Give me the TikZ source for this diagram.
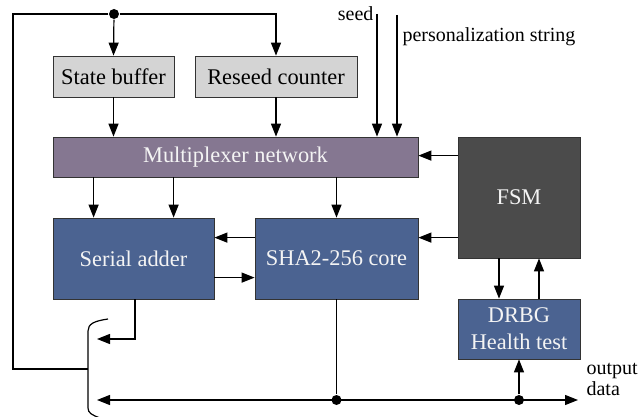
\documentclass[tikz,border=0pt]{standalone}
\usepackage{fontspec}
\setmainfont{Liberation Serif}
\newfontfamily\tnr{Liberation Serif}
\usetikzlibrary{arrows.meta}
\definecolor{boxgray}{HTML}{D4D4D4}
\definecolor{muxc}{HTML}{857791}
\definecolor{bluec}{HTML}{4B6391}
\definecolor{fsmc}{HTML}{4B4B4B}
\definecolor{txtw}{HTML}{F4F4F4}
\begin{document}
\begin{tikzpicture}[x=1pt,y=-1pt,line width=1.2pt,
  tip/.tip={Triangle[length=13pt,width=10pt]},
  arr/.style={-tip},
  blk/.style={draw=black!80,line width=0.8pt,inner sep=0pt,align=center},
  big/.style={font=\tnr\fontsize{22.4}{27}\selectfont},
  lbl/.style={font=\tnr\fontsize{20}{21}\selectfont},
  dot/.style={circle,fill=black,draw=none,inner sep=0pt,minimum size=10pt}]
\useasboundingbox (0,0) rectangle (638,417);

% blocks
\node[blk,big,fill=boxgray,minimum width=121pt,minimum height=41pt] (sb) at (113.5,76.5) {State buffer};
\node[blk,big,fill=boxgray,minimum width=162pt,minimum height=41pt] (rc) at (276,76.5) {Reseed counter};
\node[blk,big,fill=muxc,text=txtw,minimum width=365pt,minimum height=40pt] (mux) at (235.5,157) {Multiplexer network};
\node[blk,big,fill=fsmc,text=txtw,minimum width=122pt,minimum height=121pt] (fsm) at (519,197.5) {FSM};
\node[blk,big,fill=bluec,text=txtw,minimum width=161pt,minimum height=81pt] (sa) at (133.5,258.5) {Serial adder};
\node[blk,big,fill=bluec,text=txtw,minimum width=163pt,minimum height=81pt] (sha) at (336.5,258.5) {SHA2-256 core};
\node[blk,big,fill=bluec,text=txtw,minimum width=122pt,minimum height=60pt] (drbg) at (519,329) {DRBG\\Health test};

% top feedback
\node[dot] (d1) at (114,14) {};
\coordinate (tl) at (13,14);
\coordinate (bl) at (13,369);
\coordinate (bm) at (88,369);
\draw (d1) -- (tl) -- (bl) -- (bm);
\draw[arr] (d1) -- (sb.north);
\coordinate (tr) at (rc.north |- d1);
\draw[arr] (d1) -- (tr) -- (rc.north);
\draw[arr] (sb.south) -- (sb.south |- mux.north);
\draw[arr] (rc.south) -- (rc.south |- mux.north);

% seed / personalization
\coordinate (seedtop) at (377,14);
\coordinate (perstop) at (397,15);
\draw[arr] (seedtop) -- (seedtop |- mux.north);
\draw[arr] (perstop) -- (perstop |- mux.north);
\node[lbl,anchor=base east,inner sep=0pt] (seedl) at (374,21) {seed};
\node[lbl,anchor=base west,inner sep=0pt] (persl) at (402,42) {personalization string};

% mux to datapath
\draw[arr] ([xshift=41pt]mux.south west) -- ([xshift=41pt]sa.north west);
\draw[arr] ([xshift=121pt]mux.south west) -- ([xshift=121pt]sa.north west);
\draw[arr] (mux.south -| sha.north) -- (sha.north);

% FSM controls
\coordinate (f1) at ([yshift=-19pt]fsm.north west);
\draw[arr] (f1) -- (f1 -| mux.east);
\coordinate (f2) at ([yshift=-20pt]sha.north east);
\draw[arr] (f2 -| fsm.west) -- (f2);
\draw[arr] (f2 -| sha.west) -- (f2 -| sa.east);
\coordinate (f3) at ([yshift=-60pt]sa.north east);
\draw[arr] (f3) -- (f3 -| sha.west);
\draw[arr] ([xshift=-20pt]fsm.south) -- ([xshift=-20pt]drbg.north);
\draw[arr] ([xshift=20pt]drbg.north) -- ([xshift=20pt]fsm.south);

% output bus
\coordinate (busL) at (97,400);
\coordinate (busR) at (578,400);
\draw[tip-tip] (busL) -- (busR);
\node[dot] (d2) at (sha.south |- busL) {};
\node[dot] (d3) at (drbg.south |- busL) {};
\draw (sha.south) -- (d2);
\draw[arr] (d3) -- (drbg.south);
\coordinate (saout) at (97,339);
\draw[arr] ([xshift=1.5pt]sa.south) |- (saout);
\node[lbl,anchor=base west,align=left,inner sep=0pt] (outl) at (586,395) {output\\data};

% output selector bracket
\draw (108,319) .. controls (94,321) and (88,324) .. (88,331) -- (88,408) .. controls (88,413) and (92,415) .. (100,418);
\end{tikzpicture}
\end{document}
